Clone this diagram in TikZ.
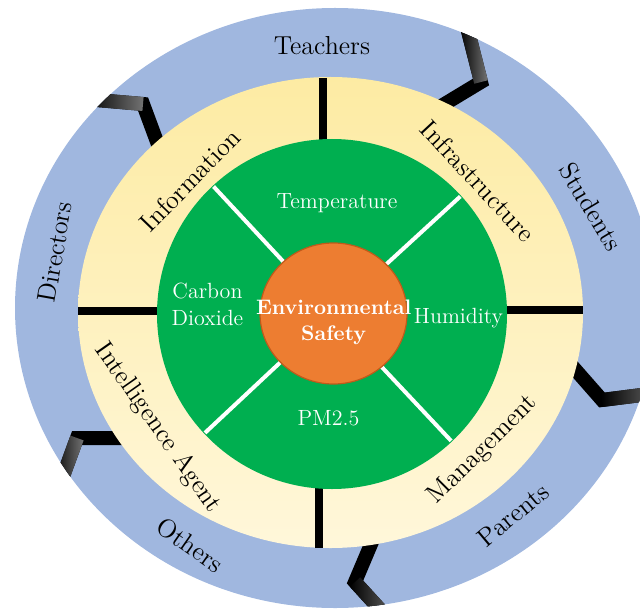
\documentclass[tikz,border=0pt]{standalone}
\usetikzlibrary{calc}

\definecolor{ringblue}{HTML}{A0B7DF}
\definecolor{ringyeltop}{HTML}{FDEBA3}
\definecolor{ringyelbot}{HTML}{FFF7DA}
\definecolor{coregreen}{HTML}{00AF50}
\definecolor{coreorange}{HTML}{ED7D31}
\definecolor{coreedge}{HTML}{C05A1A}

% zigzag band: inner end, corner, outer end (outer part fades to grey)
\newcommand\chevron[3]{%
  \draw[chevline] (#1) -- (#2) -- (#3);
  \path let \p1=($(#3)-(#2)$), \n1={atan2(\y1,\x1)}, \n2={veclen(\x1,\y1)} in
    node[chevfade, rotate=\n1, minimum width=\n2] at ($(#2)!0.5!(#3)$) {};
}

\begin{document}
\begin{tikzpicture}[x=0.5pt, y=0.5pt,
    person/.style={font=\fontsize{13}{15}\selectfont, inner sep=0pt},
    aspect/.style={font=\fontsize{13}{15}\selectfont, inner sep=0pt},
    factor/.style={text=white, font=\fontsize{11}{13.5}\selectfont, inner sep=0pt},
    divider/.style={line width=4pt},
    spoke/.style={white, line width=2pt},
    chevline/.style={line width=7pt, line join=miter},
    chevfade/.style={rectangle, inner sep=0pt, minimum height=7pt,
      left color=black, right color=black!55!white}]
  \useasboundingbox (0,0) rectangle (640,-614);
  \clip (0,0) rectangle (640,-614);

  % outer ring
  \fill[ringblue] (335,-308) ellipse [x radius=320, y radius=300];
  \begin{scope}
    \clip (335,-308) ellipse [x radius=320, y radius=300];
    \chevron{163,-158}{143,-104}{85,-99}
    \chevron{428,-114}{481,-82}{466,-23}
    \chevron{566,-359}{602,-400}{665,-392}
    \chevron{138,-438}{77,-438}{58,-490}
    \chevron{377,-530}{355,-582}{396,-627}
  \end{scope}

  % middle ring
  \shade[top color=ringyeltop, bottom color=ringyelbot]
    (330.5,-312.5) ellipse [x radius=252.5, y radius=235.5];
  \draw[divider] (323,-78) -- (323,-150);
  \draw[divider] (319,-548) -- (319,-480);
  \draw[divider] (78,-311) -- (165,-311);
  \draw[divider] (583,-310) -- (500,-310);

  % inner ring
  \fill[coregreen] (332,-314) circle [radius=175];
  \draw[spoke] (332,-314) -- ++(132.9:174);
  \draw[spoke] (332,-314) -- ++(42.5:174);
  \draw[spoke] (332,-314) -- ++(223.1:174);
  \draw[spoke] (332,-314) -- ++(-46.8:174);
  \filldraw[fill=coreorange, draw=coreedge, line width=0.6pt]
    (333.5,-313.5) ellipse [x radius=73.5, y radius=70.5];

  % labels
  \node[person] (teachers) at (322,-46) {Teachers};
  \node[person, rotate=-59] (students) at (591,-207) {Students};
  \node[person, rotate=40] (parents) at (513,-515) {Parents};
  \node[person, rotate=-35] (others) at (190,-545) {Others};
  \node[person, rotate=80] (directors) at (55,-252) {Directors};

  \node[aspect, rotate=46] (information) at (190,-180) {Information};
  \node[aspect, rotate=-47] (infrastructure) at (478,-181) {Infrastructure};
  \node[aspect, rotate=-55] (agent) at (158,-428) {Intelligence Agent};
  \node[aspect, rotate=45] (management) at (483,-450) {Management};

  \node[factor, anchor=base] (temperature) at (337,-209) {Temperature};
  \node[factor, align=center] (carbon) at (207.5,-304.5) {Carbon\\Dioxide};
  \node[factor, anchor=base] (humidity) at (458.5,-323) {Humidity};
  \node[factor, anchor=base] (pm) at (328.5,-425) {PM2.5};
  \node[factor, align=center, font=\fontsize{10.5}{13}\selectfont\bfseries]
    (safety) at (333.7,-322) {Environmental\\Safety};
\end{tikzpicture}
\end{document}
